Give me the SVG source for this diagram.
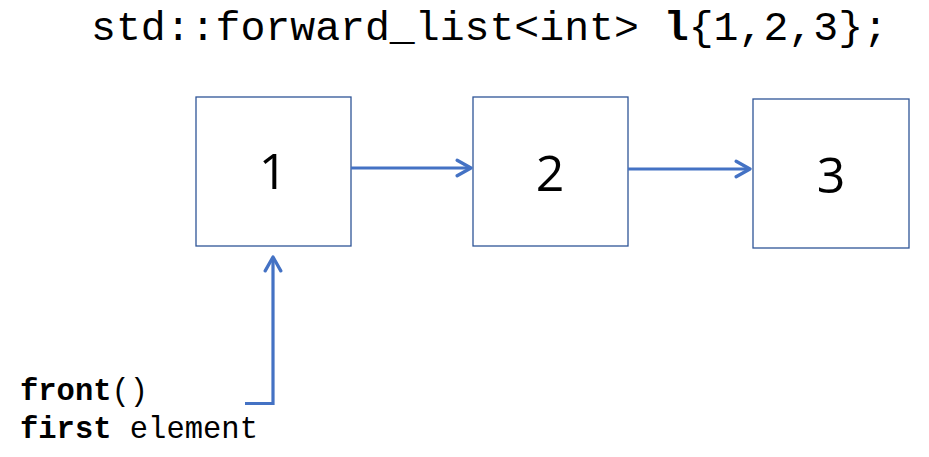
<svg xmlns="http://www.w3.org/2000/svg" width="929" height="457" viewBox="0 0 929 457">
<style>
.box{fill:#fff;stroke:#2F5597;stroke-width:1.3}
.num{font-family:"Open Sans","Liberation Sans",sans-serif;font-size:50px;fill:#000;text-anchor:middle}
.mono{font-family:"Liberation Mono","Courier New",monospace;fill:#000}
.conn{fill:none;stroke:#4472C4;stroke-width:3.2}
</style>
<defs>
<marker id="ah" viewBox="0 0 12 12" refX="10" refY="6" markerWidth="6.5" markerHeight="6.5" orient="auto" markerUnits="strokeWidth">
<path d="M2,1.5 L10,6 L2,10.5" fill="none" stroke="#4472C4" stroke-width="1.9" stroke-linecap="round" stroke-linejoin="round"/>
</marker>
</defs>
<rect width="929" height="457" fill="#fff"/>
<text class="mono" x="91" y="40" font-size="41.5">std::forward_list&lt;int&gt; <tspan font-weight="bold">l</tspan>{1,2,3};</text>
<g id="node1"><rect class="box" x="196" y="97" width="155" height="149"/><text class="num" x="273" y="189">1</text></g>
<g id="node2"><rect class="box" x="473" y="97" width="155" height="149"/><text class="num" x="550" y="191">2</text></g>
<g id="node3"><rect class="box" x="753" y="99" width="156" height="149"/><text class="num" x="831" y="193">3</text></g>
<g id="label"><text class="mono" x="20" y="400" font-size="30.5"><tspan font-weight="bold">front</tspan>()</text><text class="mono" x="20" y="438" font-size="30.5"><tspan font-weight="bold">first</tspan> element</text></g>
<g id="connectors">
<path class="conn" d="M351,168 H471" marker-end="url(#ah)"/>
<path class="conn" d="M628,169 H750" marker-end="url(#ah)"/>
<path class="conn" d="M245,403.5 H273 V257" marker-end="url(#ah)"/>
</g>
</svg>
